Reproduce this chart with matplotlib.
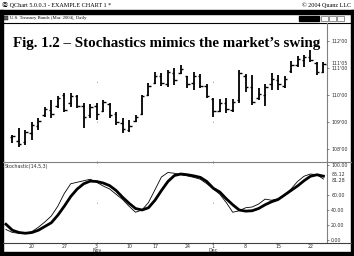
import matplotlib
matplotlib.use("Agg")
import matplotlib.pyplot as plt
from matplotlib.patches import Rectangle

# --- data (daily bars, index 0 = first visible day) ---
opens = [108.45, 108.30, 108.25, 108.60, 108.85, 109.25, 109.45, 109.60, 110.00, 109.70,
         109.95, 109.60, 109.25, 109.60, 109.40, 109.65, 109.30, 108.95, 108.70, 109.05,
         109.30, 110.00, 110.45, 110.70, 110.40, 110.80, 110.80, 110.70, 110.45, 110.70,
         110.35, 109.85, 109.40, 109.70, 109.45, 109.80, 110.70, 110.30, 109.90, 110.00,
         110.40, 110.55, 110.35, 110.90, 111.10, 111.30, 111.40, 111.20, 110.85]
highs = [108.52, 108.78, 108.70, 109.00, 109.15, 109.56, 109.81, 109.96, 110.07, 110.07,
         110.00, 109.70, 109.67, 109.70, 109.81, 109.70, 109.37, 109.15, 109.07, 109.26,
         110.00, 110.44, 110.85, 110.81, 110.93, 111.00, 111.11, 110.70, 110.85, 110.78,
         110.41, 109.89, 109.85, 109.89, 109.85, 110.93, 110.78, 110.74, 110.26, 110.41,
         110.81, 110.74, 110.70, 111.26, 111.44, 111.48, 111.67, 111.22, 111.22]
lows = [108.22, 108.07, 108.15, 108.33, 108.70, 109.19, 109.15, 109.52, 109.37, 109.56,
        109.52, 108.78, 109.15, 109.07, 109.37, 109.15, 108.89, 108.59, 108.63, 109.00,
        109.26, 109.96, 110.41, 110.33, 110.30, 110.37, 110.78, 110.26, 110.19, 110.26,
        109.89, 109.19, 109.37, 109.33, 109.37, 109.70, 110.11, 109.63, 109.81, 109.59,
        110.19, 110.19, 110.26, 110.81, 111.04, 111.04, 111.22, 110.74, 110.81]
closes = [108.48, 108.20, 108.62, 108.90, 109.05, 109.50, 109.30, 109.90, 109.45, 109.95,
          109.60, 109.20, 109.55, 109.30, 109.75, 109.25, 109.00, 108.75, 108.85, 109.20,
          109.95, 110.35, 110.70, 110.45, 110.85, 110.55, 110.95, 110.40, 110.70, 110.35,
          109.95, 109.40, 109.70, 109.50, 109.75, 110.80, 110.30, 109.75, 110.05, 110.30,
          110.60, 110.40, 110.60, 111.10, 111.35, 111.40, 111.30, 110.85, 111.16]

# stochastic lines start one bar before the first visible price bar
stoch_start = -1
stoch_k = [14, 10, 9, 9, 11, 17, 24, 32, 45, 62, 75, 77, 79, 81, 77, 72, 68, 61, 54, 45,
           37, 40, 50, 67, 84, 90, 89, 87, 85.5, 83.5, 81, 75, 68, 61, 50, 37, 39, 43, 44,
           48, 54.5, 53, 55, 60, 68, 78, 85, 88, 87, 81.28]
stoch_d = [21, 13, 10, 9, 10, 13, 18, 23, 33, 45, 58, 68, 75, 78.5, 78, 76, 72.5, 66, 57,
           49, 42, 40, 43, 53, 66, 78, 86, 88, 87, 85.5, 83.5, 78, 69, 64, 55, 47, 40, 38.5,
           39, 42, 47, 51, 54, 60, 66, 72, 79, 85, 87, 85.12]

date_idx = [3, 8, 13, 18, 22, 27, 31, 36, 41, 46]
date_labels = ["20", "27", "3\nNov", "10", "17", "24", "1\nDec", "8", "15", "22"]
month_idx = [13, 31]

price_ticks = [108, 109, 110, 111, 112]
stoch_ticks = [0, 20, 40, 60, 100]

W, H = 354, 256
SMALL = 3.4
CHROME = ["Liberation Serif", "Noto Sans CJK JP", "DejaVu Sans"]


def px_rect(x0, y0, x1, y1):
    """pixel box (top-left origin) -> figure fraction rect"""
    return [x0 / W, 1 - y1 / H, (x1 - x0) / W, (y1 - y0) / H]


def fmt_32nds(p):
    whole = int(p)
    frac = int(round((p - whole) * 32))
    if frac == 32:
        whole, frac = whole + 1, 0
    return f"{whole}'{frac:02d}"


fig = plt.figure(figsize=(W / 100, H / 100), dpi=100)
fig.patch.set_facecolor("white")

# window chrome drawn in pixel space
frame = fig.add_axes([0, 0, 1, 1], zorder=0)
frame.set_xlim(0, W)
frame.set_ylim(H, 0)
frame.axis("off")
black = "#000000"
frame.add_patch(Rectangle((0, 10), W, 4, color=black))
frame.add_patch(Rectangle((0, 10), 3, H - 10, color=black))
frame.add_patch(Rectangle((W - 3, 10), 3, H - 10, color=black))
frame.add_patch(Rectangle((0, H - 4), W, 4, color=black))
frame.plot([3, W - 3], [22.5, 22.5], color=black, lw=0.8)
frame.text(2, 5, "\u24c6 QChart 5.0.0.3 - EXAMPLE CHART 1 *", fontsize=4.4,
           family=CHROME, va="center", ha="left")
frame.text(W - 3, 5, "\u00a9 2004 Quanz LLC", fontsize=4.4,
           family=CHROME, va="center", ha="right")
frame.add_patch(Rectangle((4, 16), 4, 4, facecolor="#606060", edgecolor=black, lw=0.3))
frame.text(10, 18, "U.S. Treasury Bonds (Mar. 2004), Daily", fontsize=SMALL,
           family=CHROME, va="center", ha="left")
frame.add_patch(Rectangle((299, 16), 20, 5, color=black))
for bx in (321, 329, 337):
    frame.add_patch(Rectangle((bx, 16), 7, 5, facecolor="white", edgecolor="#404040", lw=0.4))
frame.plot([327, 327], [23, 243], color="#808080", lw=0.8)
frame.plot([3, W - 3], [162, 162], color="#808080", lw=0.8)
frame.plot([3, W - 3], [243, 243], color="#404040", lw=0.8)

xlim = (-1.3, 48.55)

# --- price panel ---
ax_p = fig.add_axes(px_rect(4, 23, 327, 162), zorder=1)
ax_p.patch.set_alpha(0)
for i, (o, h, l, c) in enumerate(zip(opens, highs, lows, closes)):
    ax_p.plot([i, i], [l, h], color=black, lw=1.3, solid_capstyle="butt")
    ax_p.plot([i - 0.38, i], [o, o], color=black, lw=1.0, solid_capstyle="butt")
    ax_p.plot([i, i + 0.38], [c, c], color=black, lw=1.0, solid_capstyle="butt")
for m in month_idx:
    ax_p.axvline(m, color="#909090", lw=0.7, dashes=(1, 40))
ax_p.set_xlim(*xlim)
ax_p.set_ylim(107.52, 112.667)
ax_p.set_xticks([])
ax_p.yaxis.tick_right()
ax_p.set_yticks(price_ticks)
ax_p.set_yticklabels([fmt_32nds(p) for p in price_ticks])
ax_p.tick_params(axis="y", length=1.5, width=0.4, pad=1.5, labelsize=SMALL,
                 colors="#303030")
for s in ax_p.spines.values():
    s.set_visible(False)
ax_p.annotate(fmt_32nds(closes[-1]), xy=(1, closes[-1]), xycoords=("axes fraction", "data"),
              xytext=(3.5, 0.5), textcoords="offset points", fontsize=SMALL,
              va="center", color="#303030")
ax_p.text(0.505, 0.855, "Fig. 1.2 \u2013 Stochastics mimics the market\u2019s swing",
          transform=ax_p.transAxes, ha="center", va="center", fontsize=10.8,
          family="Liberation Serif", weight="bold")

# --- stochastic panel ---
ax_s = fig.add_axes(px_rect(4, 162, 327, 243), zorder=1)
ax_s.patch.set_alpha(0)
sx = list(range(stoch_start, stoch_start + len(stoch_k)))
ax_s.plot(sx, stoch_d, color=black, lw=2.0)
ax_s.plot(sx, stoch_k, color=black, lw=0.6)
for m in month_idx:
    ax_s.axvline(m, color="#909090", lw=0.7, dashes=(1, 40))
ax_s.set_xlim(*xlim)
ax_s.set_ylim(-4, 104)
ax_s.yaxis.tick_right()
ax_s.set_yticks(stoch_ticks)
ax_s.set_yticklabels([f"{v:.2f}" for v in stoch_ticks])
ax_s.tick_params(axis="y", length=1.5, width=0.4, pad=1.5, labelsize=SMALL,
                 colors="#303030")
ax_s.set_xticks(date_idx)
ax_s.set_xticklabels(date_labels, linespacing=0.8)
ax_s.tick_params(axis="x", length=0, pad=0.6, labelsize=SMALL, colors="#303030")
for s in ax_s.spines.values():
    s.set_visible(False)
for v, dy in ((stoch_d[-1], 1.3), (stoch_k[-1], -1.3)):
    ax_s.annotate(f"{v:.2f}", xy=(1, v), xycoords=("axes fraction", "data"),
                  xytext=(3.5, dy), textcoords="offset points", fontsize=SMALL,
                  va="center", color="#303030")
ax_s.text(0.002, 0.97, "Stochastic(14,5,3)", transform=ax_s.transAxes,
          fontsize=SMALL, va="top", ha="left", color="#303030")

fig.savefig("out.png", dpi=100)
